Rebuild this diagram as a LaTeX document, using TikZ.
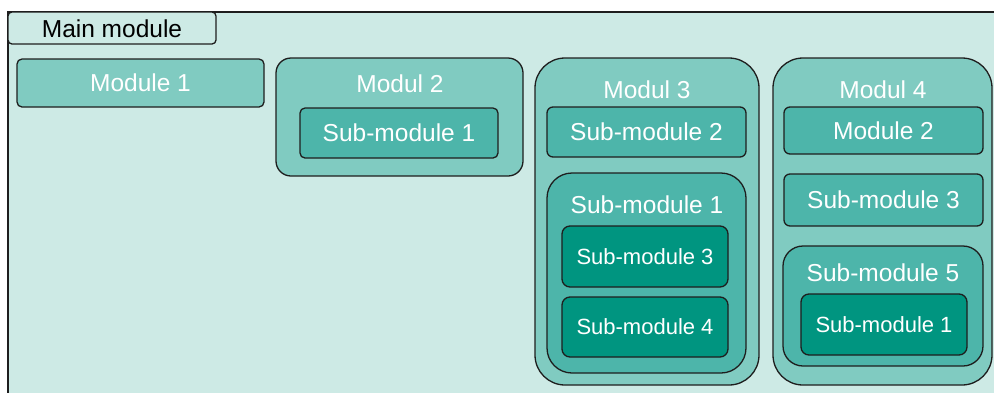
\documentclass[tikz,border=0pt]{standalone}
\usepackage{fontspec}
\setmainfont{Liberation Sans}
\usetikzlibrary{fit}
\definecolor{bgc}{HTML}{CDEAE5}
\definecolor{lvA}{HTML}{80CBC1}
\definecolor{lvB}{HTML}{4DB5AA}
\definecolor{lvC}{HTML}{009580}
\definecolor{edge}{HTML}{1E1E1E}
\begin{document}
\begin{tikzpicture}[x=1pt,y=-1pt,
  box/.style={draw=edge, line width=1.3pt, inner sep=0pt},
  big/.style={font=\fontsize{24.5}{29}\selectfont, text=white},
  small/.style={font=\fontsize{22}{26}\selectfont, text=white},
  lbl/.style={inner sep=0pt, anchor=center}]
\useasboundingbox (0,0) rectangle (994,392);
\clip (0,0) rectangle (994,392);
% outer frame
\node[box, fill=bgc, fit={(8,12) (1010,410)}] (frame) {};
\node[box, fill=bgc, rounded corners=4pt, fit={(8,12) (216,44)}] (main) {};
\node[lbl, font=\fontsize{24.5}{29}\selectfont] (mainlbl) at (112,29) {Main module};
% Module 1
\node[box, fill=lvA, rounded corners=5pt, fit={(17,59) (264,107)}] (m1) {};
\node[lbl, big] (m1lbl) at (m1.center) {Module 1};
% Modul 2
\node[box, fill=lvA, rounded corners=15pt, fit={(276,58) (523,176)}] (m2) {};
\node[lbl, big] (m2lbl) at (400,84) {Modul 2};
\node[box, fill=lvB, rounded corners=5pt, fit={(300,108) (498,158)}] (m2s1) {};
\node[lbl, big] (m2s1lbl) at (m2s1.center) {Sub-module 1};
% Modul 3
\node[box, fill=lvA, rounded corners=30pt, fit={(535,58) (759,385)}] (m3) {};
\node[lbl, big] (m3lbl) at (647,90) {Modul 3};
\node[box, fill=lvB, rounded corners=6pt, fit={(547,107) (746,157)}] (m3s2) {};
\node[lbl, big] (m3s2lbl) at (m3s2.center) {Sub-module 2};
\node[box, fill=lvB, rounded corners=25pt, fit={(547,173) (746,373)}] (m3s1) {};
\node[lbl, big] (m3s1lbl) at (647,205) {Sub-module 1};
\node[box, fill=lvC, rounded corners=8pt, fit={(562,226) (728,287)}] (m3s3) {};
\node[lbl, small] (m3s3lbl) at (m3s3.center) {Sub-module 3};
\node[box, fill=lvC, rounded corners=8pt, fit={(562,297) (728,357)}] (m3s4) {};
\node[lbl, small] (m3s4lbl) at (m3s4.center) {Sub-module 4};
% Modul 4
\node[box, fill=lvA, rounded corners=30pt, fit={(773,58) (992,385)}] (m4) {};
\node[lbl, big] (m4lbl) at (883,90) {Modul 4};
\node[box, fill=lvB, rounded corners=6pt, fit={(784,107) (983,154)}] (m4m2) {};
\node[lbl, big] (m4m2lbl) at (m4m2.center) {Module 2};
\node[box, fill=lvB, rounded corners=6pt, fit={(784,174) (983,226)}] (m4s3) {};
\node[lbl, big] (m4s3lbl) at (m4s3.center) {Sub-module 3};
\node[box, fill=lvB, rounded corners=20pt, fit={(783,246) (983,366)}] (m4s5) {};
\node[lbl, big] (m4s5lbl) at (883,273) {Sub-module 5};
\node[box, fill=lvC, rounded corners=8pt, fit={(801,294) (967,355)}] (m4s1) {};
\node[lbl, small] (m4s1lbl) at (m4s1.center) {Sub-module 1};
\end{tikzpicture}
\end{document}
